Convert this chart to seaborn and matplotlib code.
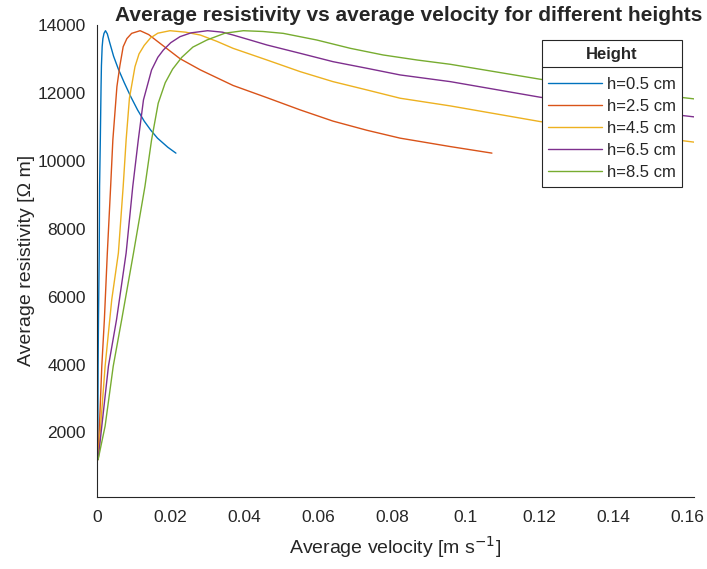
import pandas as pd
import matplotlib.pyplot as plt
import seaborn as sns
from matplotlib.lines import Line2D

# Values (velocity in m/s, resistivity in Ohm m)
v_h05 = [0.0002, 0.0003, 0.0004, 0.0006, 0.0007, 0.0009, 0.0011, 0.0012, 0.0014,
         0.0016, 0.0019, 0.0023, 0.0028, 0.0034, 0.0045, 0.0058, 0.0074, 0.0092,
         0.0110, 0.0128, 0.0146, 0.0164, 0.0192, 0.0214]
r_h05 = [1200, 3950, 5324, 7285, 9245, 10618, 12186, 12800, 13362,
         13600, 13755, 13833, 13740, 13500, 13080, 12700, 12300, 11880,
         11500, 11170, 10900, 10668, 10400, 10227]

v_h25 = [0.0003, 0.0013, 0.0020, 0.0028, 0.0037, 0.0043, 0.0054, 0.0062, 0.0071,
         0.0081, 0.0094, 0.0117, 0.0140, 0.0171, 0.0225, 0.0280, 0.0369, 0.0461,
         0.0551, 0.0640, 0.0732, 0.0822, 0.0958, 0.1071]
r_h25 = [1200, 3950, 5324, 7285, 9245, 10618, 12186, 12800, 13362,
         13600, 13755, 13833, 13720, 13460, 13010, 12680, 12220, 11860,
         11500, 11170, 10900, 10668, 10420, 10227]

v_h45 = [0.0003, 0.0022, 0.0040, 0.0058, 0.0071, 0.0079, 0.0088, 0.0103, 0.0114,
         0.0128, 0.0145, 0.0165, 0.0198, 0.0240, 0.0280, 0.0325, 0.0369, 0.0461,
         0.0551, 0.0640, 0.0732, 0.0822, 0.0958, 0.1202, 0.1400, 0.1627]
r_h45 = [1200, 3950, 5912, 7285, 9245, 10618, 11850, 12774, 13150,
         13400, 13620, 13760, 13833, 13790, 13706, 13520, 13314, 12970,
         12627, 12333, 12088, 11844, 11618, 11156, 10850, 10540]

v_h65 = [0.0003, 0.0031, 0.0053, 0.0079, 0.0097, 0.0112, 0.0126, 0.0148, 0.0165,
         0.0180, 0.0200, 0.0225, 0.0255, 0.0300, 0.0340, 0.0369, 0.0415, 0.0461,
         0.0551, 0.0640, 0.0732, 0.0822, 0.0958, 0.1202, 0.1400, 0.1627]
r_h65 = [1200, 3950, 5324, 7285, 9245, 10618, 11794, 12677, 13050,
         13265, 13480, 13657, 13770, 13833, 13790, 13706, 13560, 13412,
         13167, 12921, 12726, 12530, 12333, 11873, 11570, 11285]

v_h85 = [0.0003, 0.0022, 0.0044, 0.0067, 0.0099, 0.0130, 0.0148, 0.0166, 0.0185,
         0.0205, 0.0230, 0.0260, 0.0298, 0.0347, 0.0397, 0.0450, 0.0505, 0.0596,
         0.0687, 0.0776, 0.0868, 0.0958, 0.1202, 0.1400, 0.1627]
r_h85 = [1200, 2186, 3950, 5324, 7285, 9245, 10618, 11697, 12300,
         12700, 13050, 13350, 13559, 13760, 13833, 13810, 13755, 13559,
         13314, 13118, 12970, 12844, 12403, 12100, 11815]

labels = ['h=0.5 cm', 'h=2.5 cm', 'h=4.5 cm', 'h=6.5 cm', 'h=8.5 cm']
colors = ['#0072BD', '#D95319', '#EDB120', '#7E2F8E', '#77AC30']

frames = []
for lab, v, r in zip(labels, [v_h05, v_h25, v_h45, v_h65, v_h85],
                     [r_h05, r_h25, r_h45, r_h65, r_h85]):
    frames.append(pd.DataFrame({'v': v, 'r': r, 'Height': lab}))
df = pd.concat(frames, ignore_index=True)

sns.set_style('white')
plt.rcParams['font.family'] = ['Liberation Sans', 'DejaVu Sans']

fig = plt.figure(figsize=(7.07, 5.69), dpi=100)
ax = fig.add_axes([0.1372, 0.1273, 0.8444, 0.8287])

sns.lineplot(data=df, x='v', y='r', hue='Height', palette=colors, sort=False,
             estimator=None, linewidth=1.0, ax=ax, legend=False)

ax.set_xlim(0, 0.1619)
ax.set_ylim(110, 14000)
ax.set_xticks([0, 0.02, 0.04, 0.06, 0.08, 0.1, 0.12, 0.14, 0.16])
ax.set_xticklabels(['0', '0.02', '0.04', '0.06', '0.08', '0.1', '0.12', '0.14', '0.16'])
ax.set_yticks([2000, 4000, 6000, 8000, 10000, 12000, 14000])
ax.tick_params(direction='in', length=4, width=0.8, colors='#262626', labelsize=12.5,
               labelcolor='#262626')
ax.tick_params(axis='x', pad=10)
ax.tick_params(axis='y', pad=8)
for side in ['top', 'right']:
    ax.spines[side].set_visible(False)
for side in ['left', 'bottom']:
    ax.spines[side].set_color('#262626')
    ax.spines[side].set_linewidth(0.8)

ax.set_xlabel('Average velocity [m s$^{-1}$]', fontsize=14, color='#262626', labelpad=6)
ax.set_ylabel('Average resistivity [\u03a9 m]', fontsize=14, color='#262626', labelpad=2)
ax.set_title('Average resistivity vs average velocity for different heights',
             fontsize=15, fontweight='bold', pad=3, x=0.522)

handles = [Line2D([], [], color=c, lw=1.0) for c in colors]
leg = ax.legend(handles, labels, title='Height', loc='upper left',
                bbox_to_anchor=(0.745, 0.968), borderaxespad=0, fontsize=12,
                frameon=True, framealpha=1, fancybox=False, edgecolor='#262626',
                handlelength=3.2, handletextpad=0.3, labelspacing=0.42,
                borderpad=0.4)
leg.get_title().set_fontweight('bold')
leg.get_title().set_fontsize(12)
leg.get_frame().set_linewidth(0.8)
leg._legend_box.sep = 11

# separator line under the legend title
fig.canvas.draw()
lb = leg.get_window_extent()
tb = leg.get_title().get_window_extent()
inv = fig.transFigure.inverted()
x0, y0 = inv.transform((lb.x0, tb.y0 - 5))
x1, _ = inv.transform((lb.x1, tb.y0 - 5))
fig.add_artist(Line2D([x0, x1], [y0, y0], color='#262626', lw=0.8,
                      transform=fig.transFigure))

fig.savefig('out.png', dpi=100)
